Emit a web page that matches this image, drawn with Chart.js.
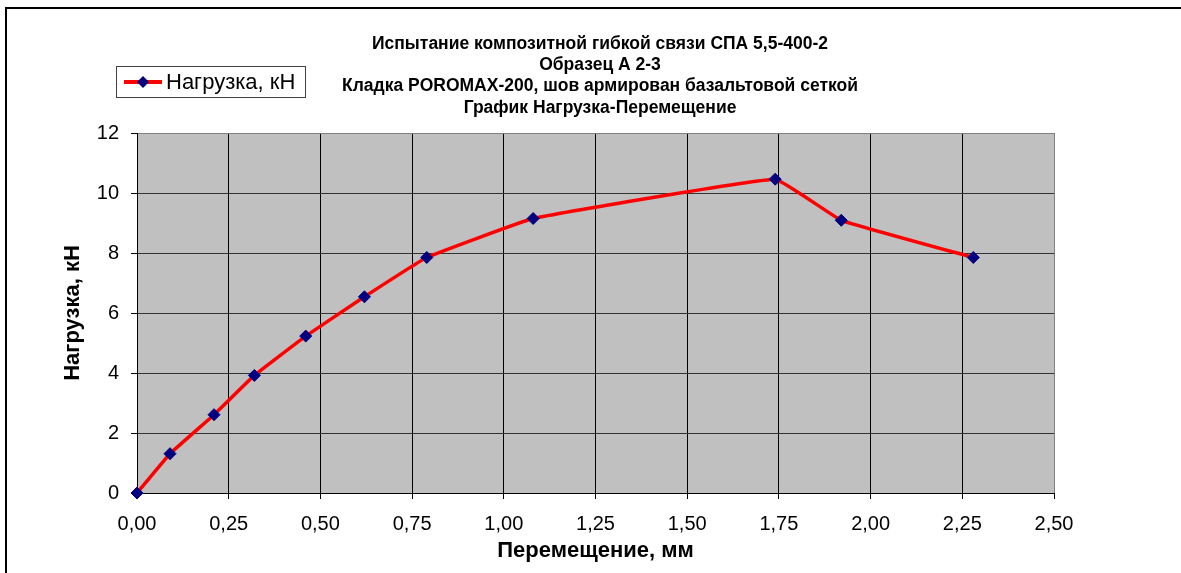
<!DOCTYPE html>
<html><head><meta charset="utf-8">
<script src="https://cdn.jsdelivr.net/npm/chart.js@4"></script>
<style>
html,body{margin:0;padding:0;background:#fff;}
canvas{display:block;}
</style></head><body>
<canvas id="c" width="1181" height="573"></canvas>
<script>
const titleLines = [
  'Испытание композитной гибкой связи СПА 5,5-400-2',
  'Образец А 2-3',
  'Кладка POROMAX-200, шов армирован базальтовой сеткой',
  'График Нагрузка-Перемещение'
];
const seriesLabel = 'Нагрузка, кН';
const xAxisTitle = 'Перемещение, мм';
const yAxisTitle = 'Нагрузка, кН';
const displacement = [0, 0.09, 0.21, 0.32, 0.46, 0.62, 0.79, 1.08, 1.74, 1.92, 2.28];
const load = [0, 1.31, 2.61, 3.92, 5.23, 6.54, 7.85, 9.15, 10.46, 9.09, 7.85];
const xRange = [0, 2.5];
const xStep = 0.25;
const yRange = [0, 12];
const yStep = 2;

const FONT = "'Liberation Sans', Arial, sans-serif";

const decorPlugin = {
  id: 'decor',
  beforeDraw(chart) {
    const {ctx, chartArea: a} = chart;
    ctx.save();
    ctx.fillStyle = '#fff';
    ctx.fillRect(0, 0, chart.width, chart.height);
    ctx.strokeStyle = '#000';
    ctx.lineWidth = 2;
    ctx.beginPath();
    ctx.moveTo(6, chart.height + 5);
    ctx.lineTo(6, 8);
    ctx.lineTo(chart.width + 5, 8);
    ctx.stroke();
    ctx.fillStyle = '#c0c0c0';
    ctx.fillRect(a.left, a.top, a.right - a.left, a.bottom - a.top);
    ctx.restore();
  },
  afterDraw(chart) {
    const {ctx} = chart;
    ctx.save();
    ctx.fillStyle = '#000';
    ctx.font = "bold 17.5px " + FONT;
    ctx.textAlign = 'center';
    ctx.textBaseline = 'middle';
    titleLines.forEach((t, i) => ctx.fillText(t, 600, 44 + i * 21.3));
    const ds = chart.data.datasets[0];
    const bx = 116, by = 66, bw = 189, bh = 31;
    ctx.fillStyle = '#fff';
    ctx.fillRect(bx, by, bw, bh);
    ctx.strokeStyle = '#404040';
    ctx.lineWidth = 1;
    ctx.strokeRect(bx + 0.5, by + 0.5, bw, bh);
    const cy = by + bh / 2 + 0.5;
    ctx.strokeStyle = ds.borderColor;
    ctx.lineWidth = 4;
    ctx.beginPath();
    ctx.moveTo(124, cy);
    ctx.lineTo(162, cy);
    ctx.stroke();
    ctx.fillStyle = ds.pointBackgroundColor;
    ctx.beginPath();
    ctx.moveTo(143, cy - 6);
    ctx.lineTo(149, cy);
    ctx.lineTo(143, cy + 6);
    ctx.lineTo(137, cy);
    ctx.closePath();
    ctx.fill();
    ctx.fillStyle = '#000';
    ctx.font = "22px " + FONT;
    ctx.textAlign = 'left';
    ctx.textBaseline = 'middle';
    ctx.fillText(ds.label, 166, cy + 1);
    ctx.restore();
  }
};

const fmt = v => Number(v).toFixed(2).replace('.', ',');

new Chart(document.getElementById('c'), {
  type: 'scatter',
  data: {
    datasets: [{
      label: seriesLabel,
      data: displacement.map((x, i) => ({x: x, y: load[i]})),
      showLine: true,
      borderColor: '#ff0000',
      borderWidth: 3.5,
      tension: 0.08,
      pointStyle: 'rectRot',
      pointRadius: 6,
      pointHoverRadius: 6,
      pointBackgroundColor: '#000080',
      pointBorderColor: '#000080',
      pointBorderWidth: 1,
      clip: false
    }]
  },
  options: {
    responsive: false,
    animation: false,
    devicePixelRatio: 1,
    layout: {padding: {left: 6, right: 127, top: 133, bottom: 0}},
    plugins: {
      legend: {display: false},
      title: {display: false},
      tooltip: {enabled: false}
    },
    scales: {
      x: {
        type: 'linear',
        min: xRange[0], max: xRange[1],
        ticks: {
          stepSize: xStep,
          callback: fmt,
          font: {family: FONT, size: 20},
          color: '#000',
          padding: 13,
          maxRotation: 0,
          autoSkip: false
        },
        grid: {
          color: c => (c.tick && c.tick.value === xRange[1]) ? '#808080' : '#000',
          tickColor: '#000',
          lineWidth: 1,
          tickLength: 6
        },
        border: {color: '#000', width: 1},
        title: {
          display: true, text: xAxisTitle, color: '#000',
          font: {family: FONT, size: 22, weight: 'bold'},
          padding: {top: 0, bottom: 9}
        },
        afterFit: s => { s.height = 80; }
      },
      y: {
        type: 'linear',
        min: yRange[0], max: yRange[1],
        ticks: {
          stepSize: yStep,
          font: {family: FONT, size: 20},
          color: '#000',
          padding: 12
        },
        grid: {
          color: c => (c.tick && c.tick.value === yRange[1]) ? '#808080' : '#333',
          tickColor: '#000',
          lineWidth: 1,
          tickLength: 6
        },
        border: {color: '#000', width: 1},
        title: {
          display: true, text: yAxisTitle, color: '#000',
          font: {family: FONT, size: 22, weight: 'bold'},
          padding: {top: 54, bottom: 0}
        },
        afterFit: s => { s.width = 131; }
      }
    }
  },
  plugins: [decorPlugin]
});
</script>
</body></html>
